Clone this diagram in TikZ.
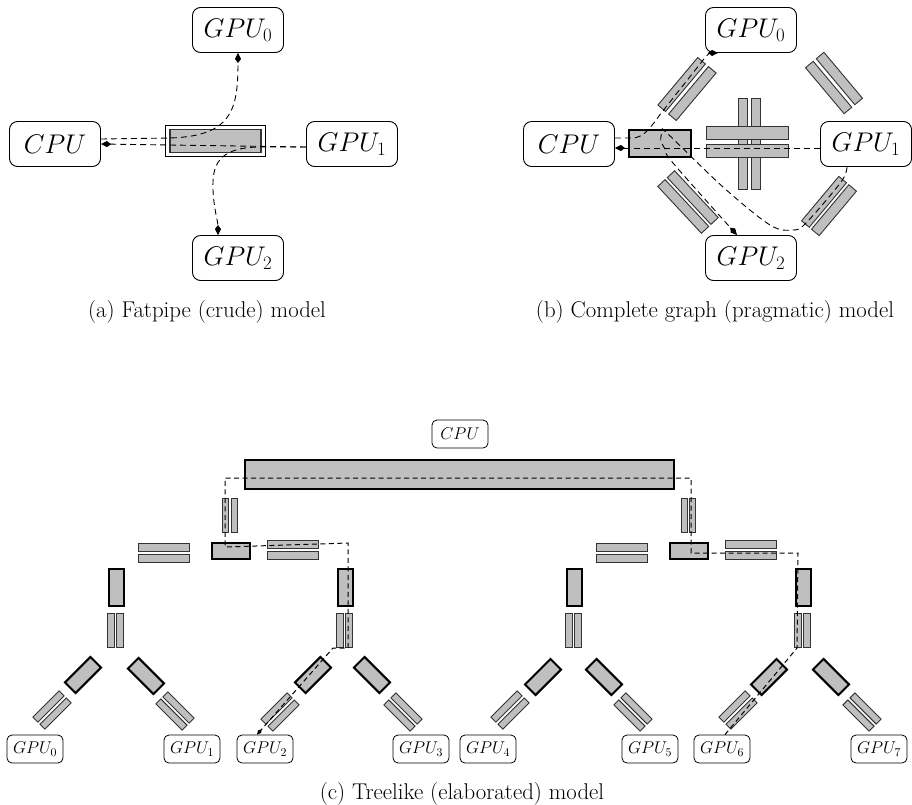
\RequirePackage{fix-cm}
\documentclass[tikz,border=0pt]{standalone}
\usetikzlibrary{arrows.meta,calc}
\tikzset{
  bigbox/.style={draw, line width=0.9pt, rounded corners=8pt, minimum width=91pt, minimum height=45pt, inner sep=0pt, font=\fontsize{27}{32}\selectfont},
  smallbox/.style={draw, line width=0.8pt, rounded corners=5pt, minimum width=56pt, minimum height=28pt, inner sep=0pt, font=\fontsize{17}{20}\selectfont},
  bar/.style={draw=black!80, fill=gray!50, line width=0.9pt, inner sep=0pt, outer sep=0pt},
  swbox/.style={draw=black, fill=gray!50, line width=2pt, inner sep=0pt, outer sep=0pt},
  link/.style={line width=0.9pt, dash pattern=on 6pt off 4pt},
  slink/.style={line width=1pt, dash pattern=on 5pt off 3.5pt},
  tip/.style={-{Kite[length=10pt,width=6pt,inset=4pt]}},
  stip/.style={-{Kite[length=7pt,width=4pt,inset=3pt]}},
  caption/.style={font=\fontsize{22.8}{27}\selectfont, anchor=base, inner sep=0pt},
  pics/bpair/.style n args={3}{code={
     \node[bar, transform shape, minimum width=#1, minimum height=#2] (-a) at (0,-#3/2) {};
     \node[bar, transform shape, minimum width=#1, minimum height=#2] (-b) at (0,#3/2) {};
  }},
}
\begin{document}
\begin{tikzpicture}[x=1pt,y=-1pt]
\useasboundingbox (0,0) rectangle (912,804);
\fill[white] (0,0) rectangle (912,804);

% ---------------- (a) Fatpipe ----------------
\node[bigbox] (a0) at (238,30) {$GPU_0$};
\node[bigbox] (acpu) at (55,144) {$CPU$};
\node[bigbox] (a1) at (352,144) {$GPU_1$};
\node[bigbox] (a2) at (238,258) {$GPU_2$};
\node[draw, line width=0.8pt, minimum width=100pt, minimum height=31pt, inner sep=0pt] (apipe) at (215.5,141) {};
\node[draw=black!80, fill=gray!50, line width=1.2pt, minimum width=91pt, minimum height=23pt, inner sep=0pt] (apipein) at (215.5,141) {};

\draw[link,tip] ([yshift=5pt]acpu.east) -- (170,138) .. controls (232,136) and (238,110) .. (a0.south);
\draw[link,tip] ([yshift=-3pt]a1.west) -- (acpu.east);
\draw[link,tip] ([yshift=-3pt]a1.west) -- (258,147) .. controls (218,148) and (212,165) .. (213,190) .. controls (214,210) and (218,222) .. ([xshift=-20pt]a2.north);

% ---------------- (b) Complete graph ----------------
\node[bigbox] (b0) at (751,30) {$GPU_0$};
\node[bigbox] (bcpu) at (569,144) {$CPU$};
\node[bigbox] (b1) at (866,144) {$GPU_1$};
\node[bigbox] (b2) at (751,258) {$GPU_2$};
\node[swbox, minimum width=62pt, minimum height=27pt] (bsw) at (660,143.5) {};
\node[bar, minimum width=9pt, minimum height=91pt] (bv1) at (742.5,143.5) {};
\node[bar, minimum width=9pt, minimum height=91pt] (bv2) at (756,143.5) {};
\node[bar, minimum width=82pt, minimum height=13pt] (bh1) at (747,132.5) {};
\node[bar, minimum width=82pt, minimum height=13pt] (bh2) at (747,150.5) {};
\pic[rotate=50] (pul) at (687,89) {bpair={62pt}{10pt}{14}};
\pic[rotate=-50] (pur) at (834,83) {bpair={60pt}{10pt}{14}};
\pic[rotate=-47] (pll) at (688,202) {bpair={64pt}{10pt}{13}};
\pic[rotate=50] (plr) at (829,206) {bpair={58pt}{10pt}{13}};

\draw[link,tip] ([yshift=-4pt]b1.west) -- ([yshift=-4pt]bcpu.east);
\draw[link,tip] ([yshift=6pt]bcpu.east) -- (632,138) .. controls (645,138) and (652,125) .. (662,112) -- (700,64) .. controls (705,57) and (710,53) .. ([xshift=-33pt]b0.south);
\draw[link,tip] plot[smooth, tension=0.55] coordinates {([xshift=-19pt]b1.south) (841,182) (806,223) (793,230) (770,225) (723,187) (668,134) (663,131) (660.7,140) (665,149) (673,163) ([xshift=-14pt]b2.north)};

% ---------------- (c) Treelike ----------------
\node[smallbox] (ccpu) at (460,434) {$CPU$};
\node[swbox, minimum width=429pt, minimum height=29pt] (bus) at (459.5,474.5) {};
\node[bar, minimum width=6pt, minimum height=34pt] (tla) at (225,515) {};
\node[bar, minimum width=6pt, minimum height=34pt] (tlb) at (234,515) {};
\node[bar, minimum width=6pt, minimum height=34pt] (tra) at (684,515) {};
\node[bar, minimum width=6pt, minimum height=34pt] (trb) at (692,515) {};
\node[swbox, minimum width=38pt, minimum height=16pt] (swl) at (231,551) {};
\node[swbox, minimum width=38pt, minimum height=16pt] (swr) at (689,551) {};
\node[bar, minimum width=51pt, minimum height=8pt] (lla) at (163.5,547) {};
\node[bar, minimum width=51pt, minimum height=8pt] (llb) at (163.5,558) {};
\node[bar, minimum width=51pt, minimum height=8pt] (lra) at (292.5,544) {};
\node[bar, minimum width=51pt, minimum height=8pt] (lrb) at (292.5,555.5) {};
\node[bar, minimum width=51pt, minimum height=8pt] (rla) at (622,547) {};
\node[bar, minimum width=51pt, minimum height=8pt] (rlb) at (622,558) {};
\node[bar, minimum width=51pt, minimum height=8pt] (rra) at (750.5,544) {};
\node[bar, minimum width=51pt, minimum height=8pt] (rrb) at (750.5,555.5) {};
% level 2 switches
\node[swbox, minimum width=15pt, minimum height=37pt] (s2a) at (116,587.5) {};
\node[swbox, minimum width=15pt, minimum height=37pt] (s2b) at (345.5,587.5) {};
\node[swbox, minimum width=15pt, minimum height=37pt] (s2c) at (574.5,587.5) {};
\node[swbox, minimum width=15pt, minimum height=37pt] (s2d) at (803.5,587.5) {};
% level 2 vertical pairs
\node[bar, minimum width=7pt, minimum height=34pt] (v2a1) at (110.5,630) {};
\node[bar, minimum width=7pt, minimum height=34pt] (v2a2) at (119.5,630) {};
\node[bar, minimum width=7pt, minimum height=34pt] (v2b1) at (340,630) {};
\node[bar, minimum width=7pt, minimum height=34pt] (v2b2) at (348.5,630) {};
\node[bar, minimum width=7pt, minimum height=34pt] (v2c1) at (569,630) {};
\node[bar, minimum width=7pt, minimum height=34pt] (v2c2) at (577.5,630) {};
\node[bar, minimum width=7pt, minimum height=34pt] (v2d1) at (798,630) {};
\node[bar, minimum width=7pt, minimum height=34pt] (v2d2) at (806.5,630) {};
% level 3 switches
\node[swbox, minimum width=36pt, minimum height=15pt, rotate=45] (s3a) at (83,675) {};
\node[swbox, minimum width=36pt, minimum height=15pt, rotate=-45] (s3b) at (146,676) {};
\node[swbox, minimum width=36pt, minimum height=15pt, rotate=45] (s3c) at (313,675) {};
\node[swbox, minimum width=36pt, minimum height=15pt, rotate=-45] (s3d) at (372,675) {};
\node[swbox, minimum width=36pt, minimum height=15pt, rotate=45] (s3e) at (543,677) {};
\node[swbox, minimum width=36pt, minimum height=15pt, rotate=-45] (s3f) at (604,677) {};
\node[swbox, minimum width=36pt, minimum height=15pt, rotate=45] (s3g) at (769,677) {};
\node[swbox, minimum width=36pt, minimum height=15pt, rotate=-45] (s3h) at (831,677) {};
% level 3 pairs
\pic[rotate=45] (q0) at (52,710) {bpair={37pt}{7pt}{10}};
\pic[rotate=-45] (q1) at (175,711) {bpair={37pt}{7pt}{10}};
\pic[rotate=45] (q2) at (280,712) {bpair={37pt}{7pt}{10}};
\pic[rotate=-45] (q3) at (403,712) {bpair={37pt}{7pt}{10}};
\pic[rotate=45] (q4) at (510,710) {bpair={37pt}{7pt}{10}};
\pic[rotate=-45] (q5) at (633,712) {bpair={37pt}{7pt}{10}};
\pic[rotate=45] (q6) at (738,710) {bpair={37pt}{7pt}{10}};
\pic[rotate=-45] (q7) at (862,712) {bpair={37pt}{7pt}{10}};
% GPUs
\node[smallbox] (g0) at (35,749) {$GPU_0$};
\node[smallbox] (g1) at (192,749) {$GPU_1$};
\node[smallbox] (g2) at (265,749) {$GPU_2$};
\node[smallbox] (g3) at (421,749) {$GPU_3$};
\node[smallbox] (g4) at (488,749) {$GPU_4$};
\node[smallbox] (g5) at (650,749) {$GPU_5$};
\node[smallbox] (g6) at (722,749) {$GPU_6$};
\node[smallbox] (g7) at (879,749) {$GPU_7$};

\draw[slink,stip] ([xshift=3pt]g6.north) -- (797,648) -- (798,553) -- (691,553) -- (691,478) -- (225,478) -- (225,547) -- (348,543) -- (348,648) -- (333,648) -- ([xshift=-8pt]g2.north);

% captions
\node[caption] (capa) at (207,317) {(a) Fatpipe (crude) model};
\node[caption] (capb) at (715,317) {(b) Complete graph (pragmatic) model};
\node[caption] (capc) at (462,799) {(c) Treelike (elaborated) model};
\end{tikzpicture}
\end{document}
